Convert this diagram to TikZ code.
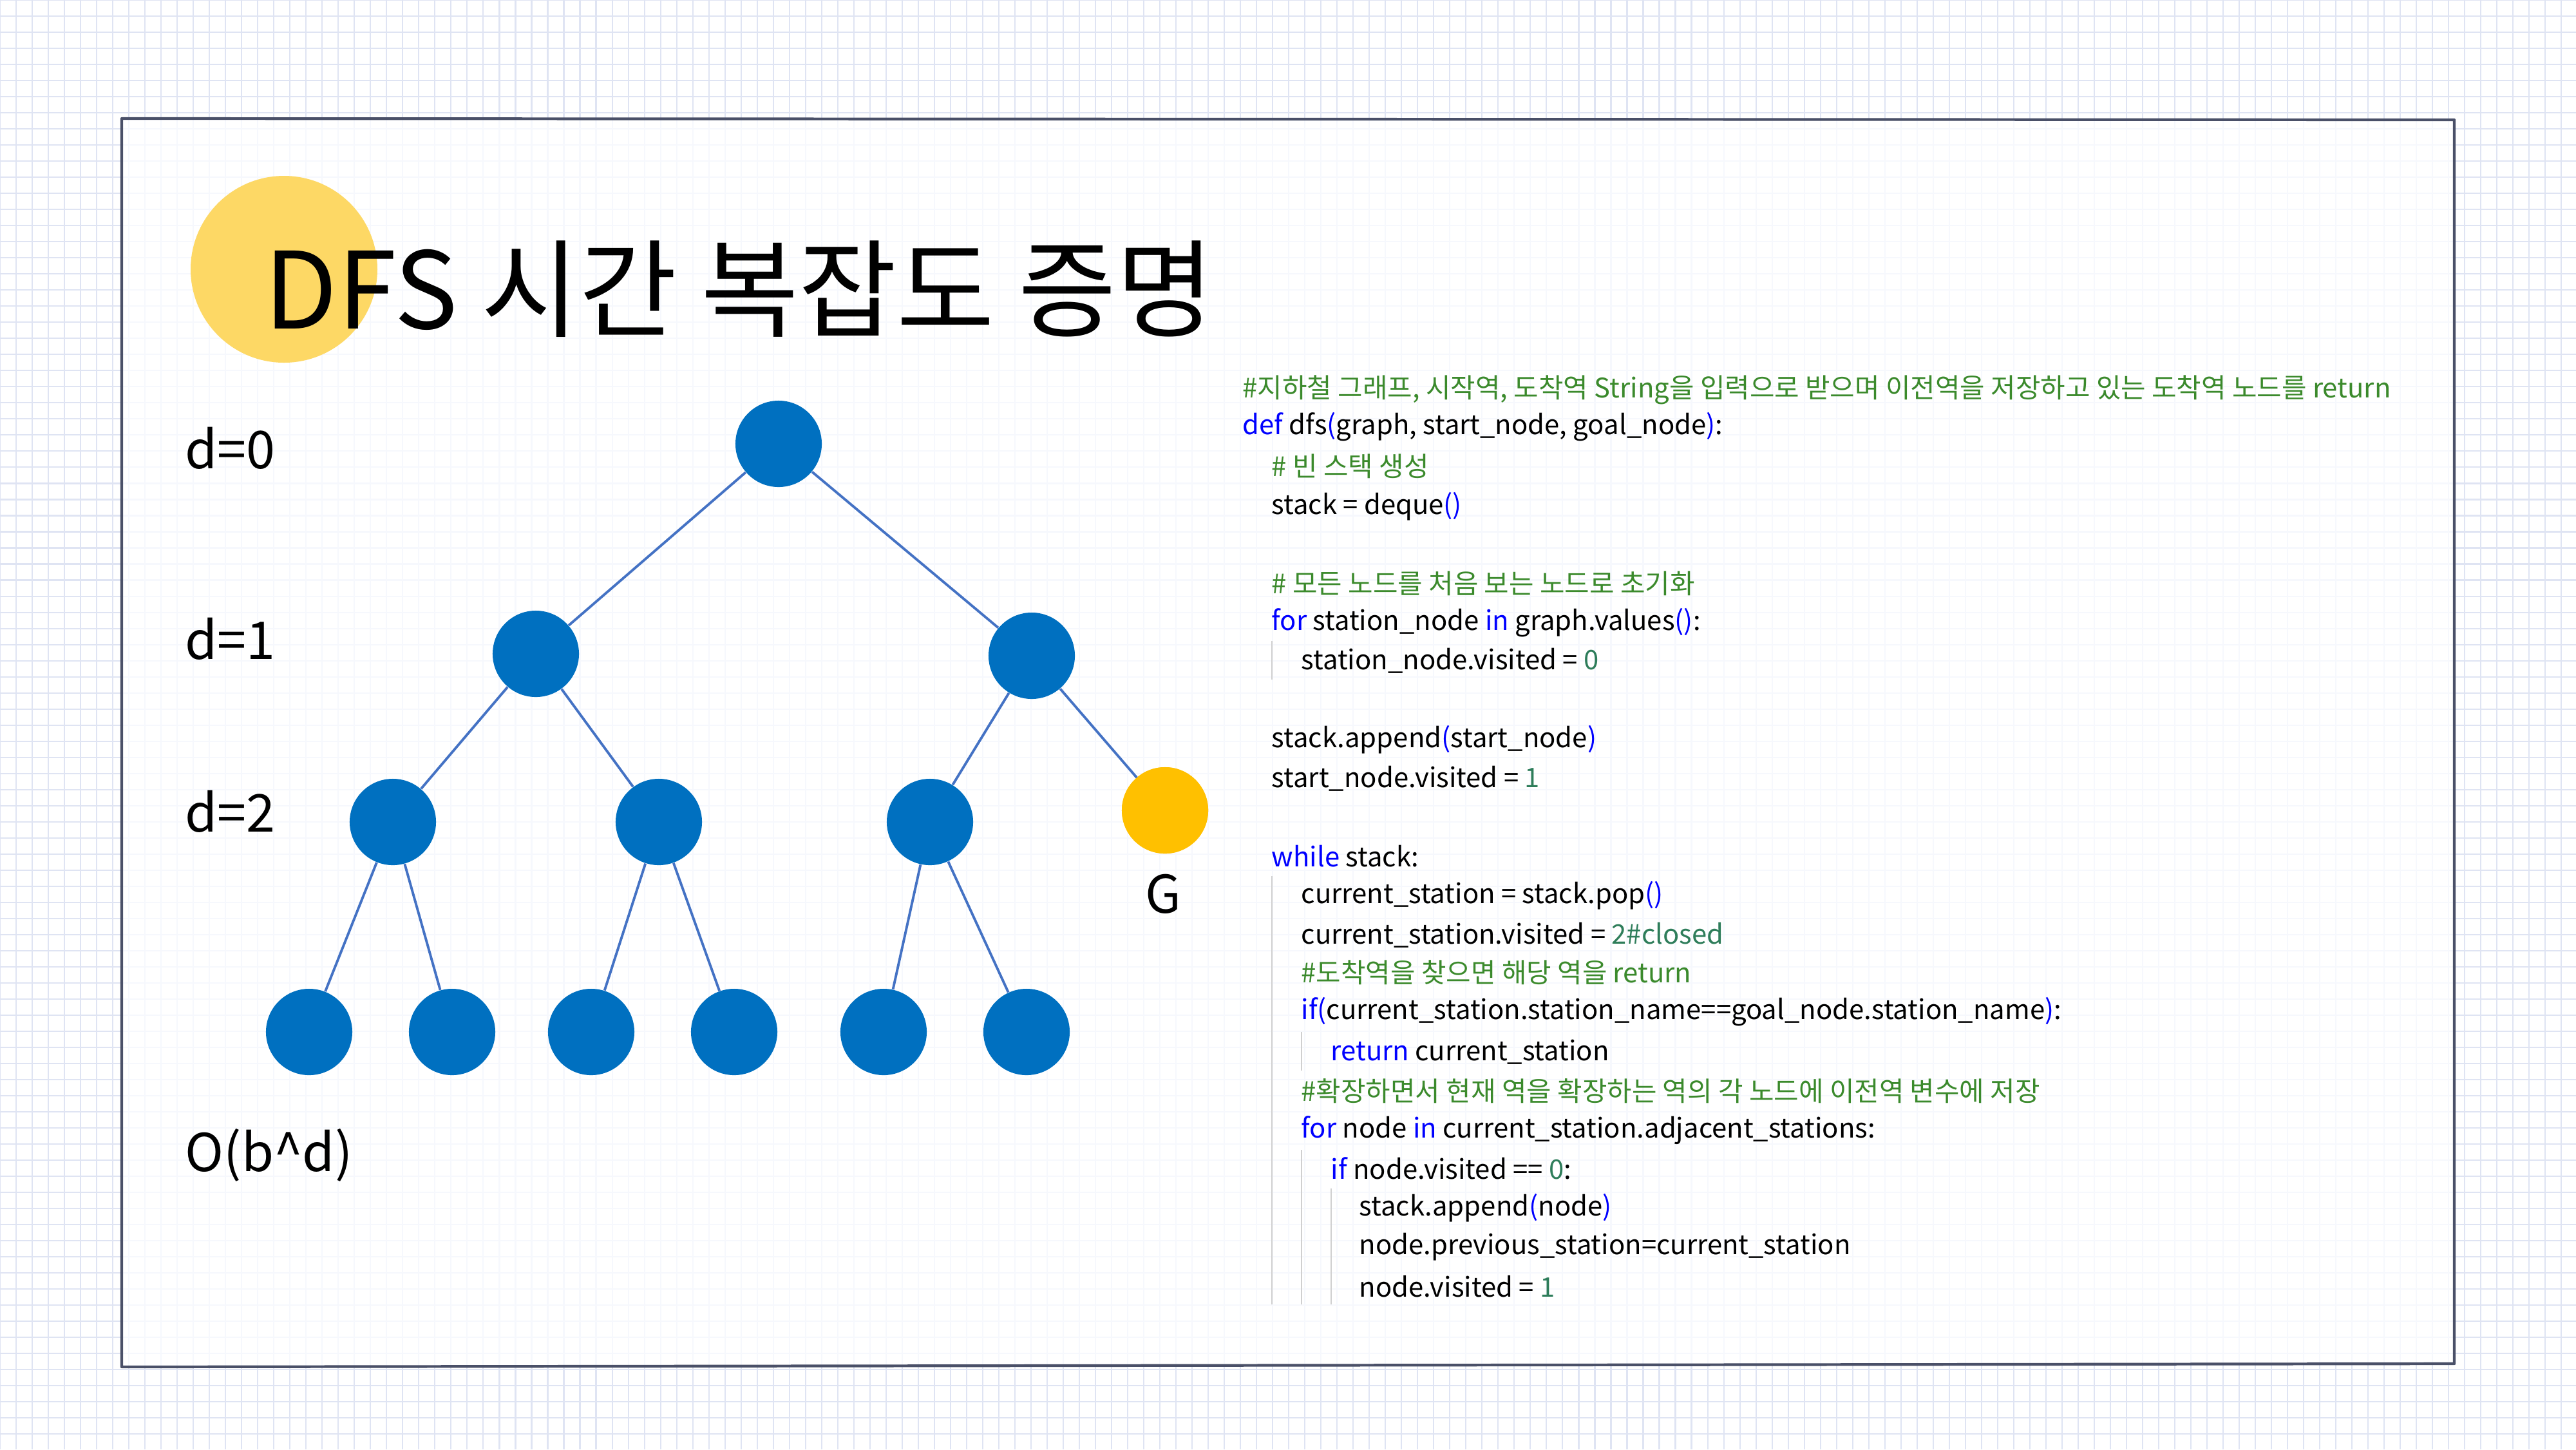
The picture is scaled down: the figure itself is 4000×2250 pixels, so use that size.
\documentclass[tikz,border=0pt]{standalone}
\usepackage{fontspec}
\setmainfont{Noto Sans CJK KR}
\definecolor{gridc}{HTML}{DFE4F3}
\definecolor{gridin}{HTML}{F6F8FD}
\definecolor{framec}{HTML}{4A5068}
\definecolor{yel}{HTML}{FDD865}
\definecolor{gold}{HTML}{FFC000}
\definecolor{nodeb}{HTML}{0070C0}
\definecolor{edgeb}{HTML}{4472C4}
\definecolor{cmt}{HTML}{3B8A2C}
\definecolor{kwc}{HTML}{0000FF}
\definecolor{numc}{HTML}{2E7D5A}
\definecolor{guide}{HTML}{D0D0D0}
\newcommand{\kw}[1]{\textcolor{kwc}{#1}}
\newcommand{\cm}[1]{\textcolor{cmt}{#1}}
\newcommand{\nm}[1]{\textcolor{numc}{#1}}
\tikzset{
  tn/.style={circle, fill=nodeb, minimum size=1.34cm, inner sep=0pt},
  gn/.style={circle, fill=gold, minimum size=1.34cm, inner sep=0pt},
  ed/.style={edgeb, line width=1.1pt},
  lbl/.style={anchor=west, inner sep=0pt, font=\fontsize{23}{28}\selectfont},
  code/.style={anchor=west, inner sep=0pt, font=\fontsize{11.9}{14}\selectfont},
  gl/.style={guide, line width=0.6pt}
}
\begin{document}
\begin{tikzpicture}[x=0.01cm,y=-0.01cm]
\useasboundingbox (0,0) rectangle (4000,2250);
\fill[white] (0,0) rectangle (4000,2250);
\draw[gridc, line width=0.6pt, step=0.25cm] (0,0) grid (4000,2250);
\fill[white] (189,184) -- (3811,186) -- (3811,2117) -- (189,2122) -- cycle;
\begin{scope}
\clip (189,184) -- (3811,186) -- (3811,2117) -- (189,2122) -- cycle;
\draw[gridin, line width=0.6pt, step=0.25cm] (0,0) grid (4000,2250);
\end{scope}
\draw[framec, line width=1.2pt, line join=round] (189,184) -- (3811,186) -- (3811,2117) -- (189,2122) -- cycle;
% title
\fill[yel] (441,418) circle (145);
\node[anchor=base west, inner sep=0pt, font=\fontsize{47}{52}\selectfont] (title) at (410,510) {DFS 시간 복잡도 증명};
% tree
\node[tn] (r) at (1209,689) {};
\node[tn] (a) at (832,1015) {};
\node[tn] (b) at (1602,1018) {};
\node[tn] (a1) at (610,1276) {};
\node[tn] (a2) at (1023,1276) {};
\node[tn] (b1) at (1444,1276) {};
\node[gn] (g) at (1809,1258) {};
\node[tn] (l1) at (480,1602) {};
\node[tn] (l2) at (702,1602) {};
\node[tn] (l3) at (918,1602) {};
\node[tn] (l4) at (1140,1602) {};
\node[tn] (l5) at (1372,1602) {};
\node[tn] (l6) at (1594,1602) {};
\draw[ed] (r) -- (a); \draw[ed] (r) -- (b);
\draw[ed] (a) -- (a1); \draw[ed] (a) -- (a2);
\draw[ed] (b) -- (b1); \draw[ed] (b) -- (g.center);
\node[gn] at (g) {};
\draw[ed] (a1) -- (l1); \draw[ed] (a1) -- (l2);
\draw[ed] (a2) -- (l3); \draw[ed] (a2) -- (l4);
\draw[ed] (b1) -- (l5); \draw[ed] (b1) -- (l6);
\node[lbl] (d0) at (287,696) {d=0};
\node[lbl] (d1) at (287,992) {d=1};
\node[lbl] (d2) at (287,1260) {d=2};
\node[lbl] (ob) at (287,1793) {O(b\textasciicircum d)};
\node[lbl, anchor=center] (gl) at (1806,1388) {G};
% code
\node[code] (c1) at (1929,605) {\cm{\#지하철 그래프, 시작역, 도착역 String을 입력으로 받으며 이전역을 저장하고 있는 도착역 노드를 return}};
\node[code] (c2) at (1929,663) {\kw{def} dfs\kw{(}graph, start\_node, goal\_node\kw{)}:};
\node[code] (c3) at (1974,724) {\cm{\# 빈 스택 생성}};
\node[code] (c4) at (1974,786) {stack = deque\kw{()}};
\node[code] (c5) at (1974,906) {\cm{\# 모든 노드를 처음 보는 노드로 초기화}};
\node[code] (c6) at (1974,967) {\kw{for} station\_node \kw{in} graph.values\kw{()}:};
\node[code] (c7) at (2020,1026) {station\_node.visited = \nm{0}};
\node[code] (c8) at (1974,1148) {stack.append\kw{(}start\_node\kw{)}};
\node[code] (c9) at (1974,1209) {start\_node.visited = \nm{1}};
\node[code] (c10) at (1974,1329) {\kw{while} stack:};
\node[code] (c11) at (2020,1390) {current\_station = stack.pop\kw{()}};
\node[code] (c12) at (2020,1452) {current\_station.visited = \nm{2\#closed}};
\node[code] (c13) at (2020,1510) {\cm{\#도착역을 찾으면 해당 역을 return}};
\node[code] (c14) at (2020,1571) {\kw{if(}current\_station.station\_name==goal\_node.station\_name\kw{)}:};
\node[code] (c15) at (2066,1633) {\kw{return} current\_station};
\node[code] (c16) at (2020,1694) {\cm{\#확장하면서 현재 역을 확장하는 역의 각 노드에 이전역 변수에 저장}};
\node[code] (c17) at (2020,1755) {\kw{for} node \kw{in} current\_station.adjacent\_stations:};
\node[code] (c18) at (2066,1814) {\kw{if} node.visited == \nm{0}:};
\node[code] (c19) at (2110,1875) {stack.append\kw{(}node\kw{)}};
\node[code] (c20) at (2110,1936) {node.previous\_station=current\_station};
\node[code] (c21) at (2110,1997) {node.visited = \nm{1}};
% guides
\draw[gl] (1975,995) -- (1975,1055);
\draw[gl] (1975,1360) -- (1975,2025);
\draw[gl] (2021,1602) -- (2021,1662);
\draw[gl] (2021,1785) -- (2021,2025);
\draw[gl] (2067,1845) -- (2067,2025);
\end{tikzpicture}
\end{document}
